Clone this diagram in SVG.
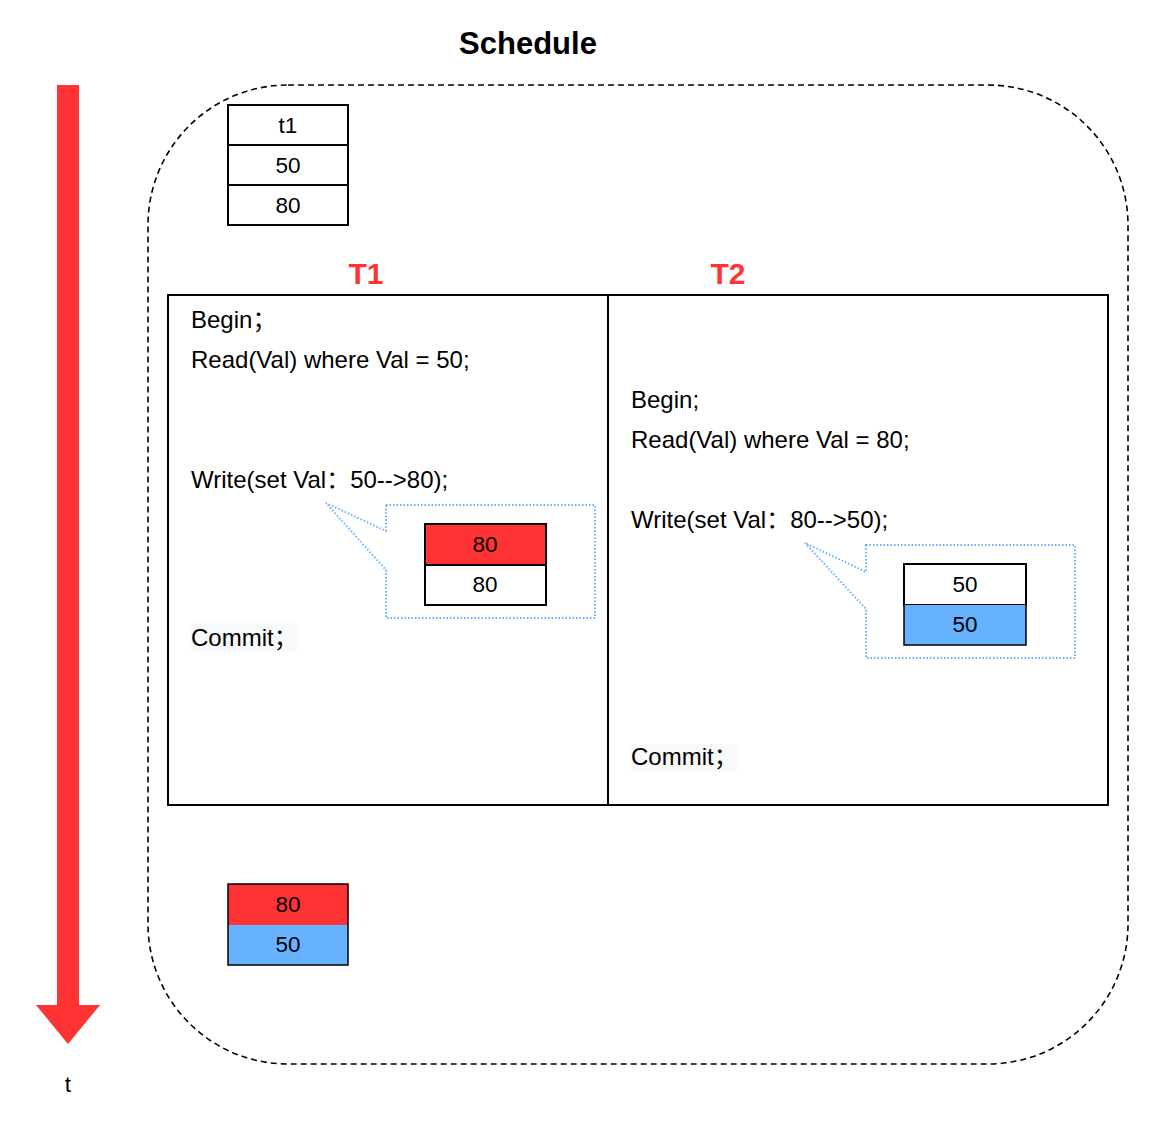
<svg xmlns="http://www.w3.org/2000/svg" width="1150" height="1130" viewBox="0 0 1150 1130">
  <style>
    text { font-family: "Liberation Sans", Arial, "Noto Sans CJK SC", sans-serif; fill: #000; }
    .body { font-size: 24px; }
    .num { font-size: 22.5px; text-anchor: middle; }
    .title { font-size: 31px; font-weight: bold; text-anchor: middle; }
    .tx { font-size: 30px; font-weight: bold; fill: #FF3333; text-anchor: middle; }
    .cell { fill: #fff; stroke: #000; stroke-width: 2; }
    .red { fill: #FF3333; }
    .blue { fill: #66B2FF; }
    .frame { fill: none; stroke: #000; stroke-width: 2; }
    .callout { fill: #fff; stroke: #66B2FF; stroke-width: 2; stroke-dasharray: 1.5 2; }
    .hl { fill: #F8F9FA; }
  </style>
  <rect width="1150" height="1130" fill="#fff"/>

  <g id="title"><text class="title" x="528" y="54">Schedule</text></g>

  <g id="connectors">
    <polygon points="57,85 79,85 79,1005 100,1005 68,1044 36,1005 57,1005" fill="#FF3333"/>
  </g>
  <g id="t-label"><text class="body" x="68" y="1092" text-anchor="middle" style="font-size:22.5px">t</text></g>

  <g id="schedule-frame">
    <rect x="148" y="85" width="980" height="979" rx="140" ry="140" fill="none" stroke="#000" stroke-width="1.6" stroke-dasharray="6 4"/>
  </g>

  <g id="t1-table">
    <rect class="cell" x="228" y="105" width="120" height="40"/>
    <rect class="cell" x="228" y="145" width="120" height="40"/>
    <rect class="cell" x="228" y="185" width="120" height="40"/>
    <text class="num" x="288" y="133">t1</text>
    <text class="num" x="288" y="173">50</text>
    <text class="num" x="288" y="213">80</text>
  </g>

  <g id="label-T1"><text class="tx" x="366" y="284">T1</text></g>
  <g id="label-T2"><text class="tx" x="728" y="284">T2</text></g>

  <g id="transactions">
    <rect class="frame" x="168" y="295" width="940" height="510"/>
    <line x1="608" y1="295" x2="608" y2="805" stroke="#000" stroke-width="2"/>
  </g>

  <g id="T1-steps">
    <text class="body" x="191" y="328">Begin；</text>
    <text class="body" x="191" y="368">Read(Val) where Val = 50;</text>
    <text class="body" x="191" y="488">Write(set Val：50--&gt;80);</text>
    <rect class="hl" x="191" y="623" width="106" height="29"/>
    <text class="body" x="191" y="646">Commit；</text>
  </g>

  <g id="T1-callout">
    <path class="callout" d="M386,505 H595 V618 H386 V570 L326,503 L386,531 Z"/>
    <rect class="cell red" x="425" y="524" width="121" height="41" style="stroke:#000;stroke-width:2"/>
    <rect class="cell" x="425" y="565" width="121" height="40"/>
    <text class="num" x="485" y="552">80</text>
    <text class="num" x="485" y="592">80</text>
  </g>

  <g id="T2-steps">
    <text class="body" x="631" y="408">Begin;</text>
    <text class="body" x="631" y="448">Read(Val) where Val = 80;</text>
    <text class="body" x="631" y="528">Write(set Val：80--&gt;50);</text>
    <rect class="hl" x="631" y="744" width="106" height="28"/>
    <text class="body" x="631" y="765">Commit；</text>
  </g>

  <g id="T2-callout">
    <path class="callout" d="M866,545 H1075 V658 H866 V609 L805,543 L866,572 Z"/>
    <rect class="cell" x="904" y="564" width="122" height="41"/>
    <rect class="cell blue" x="904" y="605" width="122" height="40" style="stroke:none"/>
    <rect x="904" y="564" width="122" height="81" fill="none" stroke="#000" stroke-width="1.5"/>
    <text class="num" x="965" y="592">50</text>
    <text class="num" x="965" y="632">50</text>
  </g>

  <g id="result-table">
    <rect class="red" x="228" y="884" width="120" height="41"/>
    <rect class="blue" x="228" y="925" width="120" height="40"/>
    <rect x="228" y="884" width="120" height="81" fill="none" stroke="#000" stroke-width="1.5"/>
    <text class="num" x="288" y="912">80</text>
    <text class="num" x="288" y="952">50</text>
  </g>
</svg>
